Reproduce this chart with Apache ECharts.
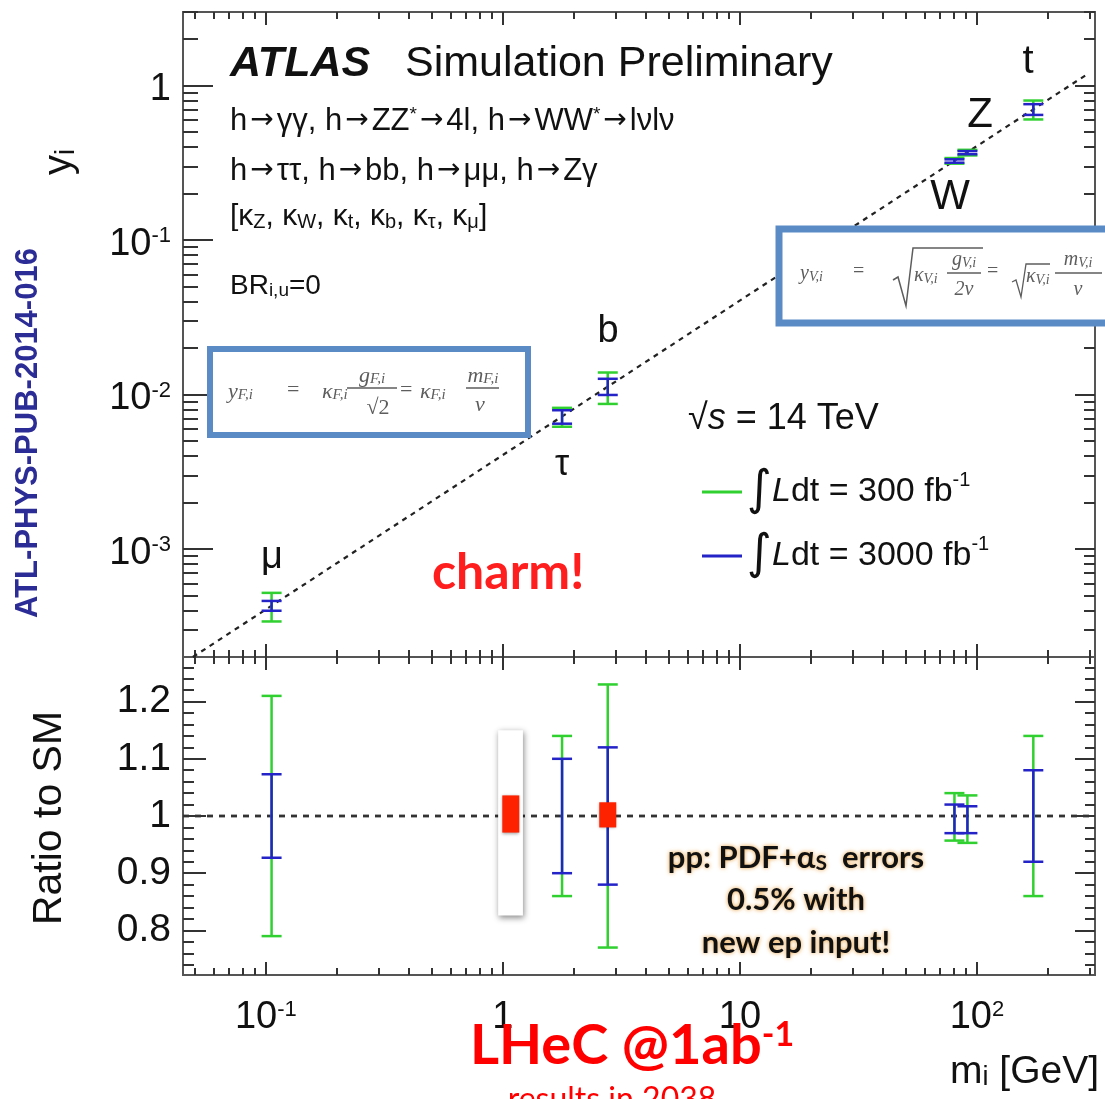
<!DOCTYPE html>
<html>
<head>
<meta charset="utf-8">
<style>
  html, body { margin: 0; padding: 0; background: #fff; }
  #chart { width: 1105px; height: 1099px; }
</style>
<script src="https://cdn.jsdelivr.net/npm/echarts@6/dist/echarts.min.js"></script>
</head>
<body>
<div id="chart"></div>
<script>
// values
const particles = ['μ', 'τ', 'b', 'W', 'Z', 't'];
const masses = [0.1057, 1.777, 2.77, 80.4, 91.2, 173];
const couplings = [0.00043, 0.0072, 0.0113, 0.327, 0.371, 0.703];
const ratio300Low = [0.79, 0.86, 0.77, 0.957, 0.953, 0.86];
const ratio300High = [1.21, 1.14, 1.23, 1.04, 1.036, 1.14];
const ratio3000Low = [0.927, 0.90, 0.88, 0.97, 0.97, 0.92];
const ratio3000High = [1.073, 1.10, 1.12, 1.02, 1.017, 1.08];
// SM expectation y = m / v (dashed diagonal) and ratio = 1
const smLineMass = [0.0492, 288];
const smLineCoupling = [0.0002, 1.17];
const ratioLineMass = [0.0447, 315];
const ratioLineValue = [1, 1];
// LHeC markers (charm, b)
const lhecMass = [1.08, 2.77];
const lhecLow = [0.971, 0.98];
const lhecHigh = [1.036, 1.024];
const lhecBandMass = [0.955, 1.215];
const lhecBandRatio = [0.826, 1.15];
// ticks
const xMajorTicks = [0.1, 1, 10, 100];
const xMinorTicks = [0.05, 0.06, 0.07, 0.08, 0.09, 0.2, 0.3, 0.4, 0.5, 0.6, 0.7, 0.8, 0.9,
  2, 3, 4, 5, 6, 7, 8, 9, 20, 30, 40, 50, 60, 70, 80, 90, 200, 300];
const yMajorTicks = [0.001, 0.01, 0.1, 1];
const yMinorTicks = [0.0003, 0.0004, 0.0005, 0.0006, 0.0007, 0.0008, 0.0009,
  0.002, 0.003, 0.004, 0.005, 0.006, 0.007, 0.008, 0.009,
  0.02, 0.03, 0.04, 0.05, 0.06, 0.07, 0.08, 0.09,
  0.2, 0.3, 0.4, 0.5, 0.6, 0.7, 0.8, 0.9, 2, 3];
const ratioMajorTicks = [0.8, 0.9, 1, 1.1, 1.2];
const ratioMinorTicks = [0.74, 0.76, 0.78, 0.82, 0.84, 0.86, 0.88, 0.92, 0.94, 0.96, 0.98,
  1.02, 1.04, 1.06, 1.08, 1.12, 1.14, 1.16, 1.18, 1.22, 1.24, 1.26];

const X_MIN = 0.0447, X_MAX = 315;
const Y_MIN = 0.0002, Y_MAX = 3;
const R_MIN = 0.722, R_MAX = 1.278;

const SANS = "'Liberation Sans', Arial, sans-serif";
const SERIF = "'Liberation Serif', 'DejaVu Serif', serif";
const CAL = "Lato, 'Open Sans', sans-serif";
const GREEN = '#2fd02f';
const BLUE = '#2323c8';
const FRAME = '#555';
const N300 = '300 fb-1';
const N3000 = '3000 fb-1';

const chart = echarts.init(document.getElementById('chart'));

function sup10(v) {
  const e = Math.round(Math.log10(v));
  if (e === 0) return '1';
  if (e === 1) return '10';
  return '10{s|' + e + '}';
}

function xAx(grid, pos, ticks, len, withLabels) {
  return {
    type: 'log', logBase: 10, gridIndex: grid, position: pos, min: X_MIN, max: X_MAX,
    axisLine: { show: true, lineStyle: { color: FRAME, width: 2 } },
    axisTick: { show: true, inside: true, length: len, customValues: ticks, lineStyle: { color: '#333', width: 2 } },
    axisLabel: withLabels ? {
      show: true, customValues: xMajorTicks, margin: 24, formatter: sup10,
      fontSize: 38, fontFamily: SANS, color: '#111',
      rich: { s: { fontSize: 22, fontFamily: SANS, color: '#111', verticalAlign: 'top' } }
    } : { show: false },
    splitLine: { show: false }, minorTick: { show: false }, minorSplitLine: { show: false }
  };
}

function yLog(pos, ticks, len, withLabels) {
  return {
    type: 'log', logBase: 10, gridIndex: 0, position: pos, min: Y_MIN, max: Y_MAX,
    axisLine: { show: true, lineStyle: { color: FRAME, width: 2 } },
    axisTick: { show: true, inside: true, length: len, customValues: ticks, lineStyle: { color: '#333', width: 2 } },
    axisLabel: withLabels ? {
      show: true, customValues: yMajorTicks, margin: 12, formatter: sup10,
      fontSize: 38, fontFamily: SANS, color: '#111', padding: [8, 0, 0, 0],
      rich: { s: { fontSize: 22, fontFamily: SANS, color: '#111', verticalAlign: 'top' } }
    } : { show: false },
    splitLine: { show: false }, minorTick: { show: false }
  };
}

function yRatio(pos, ticks, len, withLabels) {
  return {
    type: 'value', gridIndex: 1, position: pos, min: R_MIN, max: R_MAX,
    axisLine: { show: true, lineStyle: { color: FRAME, width: 2 } },
    axisTick: { show: true, inside: true, length: len, customValues: ticks, lineStyle: { color: '#333', width: 2 } },
    axisLabel: withLabels ? {
      show: true, customValues: ratioMajorTicks, margin: 12,
      formatter: v => (Math.abs(v - 1) < 1e-6 ? '1' : v.toFixed(1)),
      fontSize: 39, fontFamily: SANS, color: '#111'
    } : { show: false },
    splitLine: { show: false }, minorTick: { show: false }
  };
}

function errSeries(name, color, xi, yi, data) {
  return {
    type: 'custom', name: name, xAxisIndex: xi, yAxisIndex: yi, z: 5,
    itemStyle: { color: color }, encode: { x: 0, y: [1, 2] }, silent: true,
    data: data,
    renderItem: function (params, api) {
      const x = api.value(0);
      const lo = api.coord([x, api.value(1)]);
      const hi = api.coord([x, api.value(2)]);
      const st = { stroke: color, lineWidth: 2.5, fill: null };
      const cap = 10;
      return {
        type: 'group', children: [
          { type: 'line', shape: { x1: lo[0], y1: lo[1], x2: hi[0], y2: hi[1] }, style: st },
          { type: 'line', shape: { x1: lo[0] - cap, y1: lo[1], x2: lo[0] + cap, y2: lo[1] }, style: st },
          { type: 'line', shape: { x1: hi[0] - cap, y1: hi[1], x2: hi[0] + cap, y2: hi[1] }, style: st }
        ]
      };
    }
  };
}

const top300 = masses.map((m, i) => [m, couplings[i] * ratio300Low[i], couplings[i] * ratio300High[i]]);
const top3000 = masses.map((m, i) => [m, couplings[i] * ratio3000Low[i], couplings[i] * ratio3000High[i]]);
const bot300 = masses.map((m, i) => [m, ratio300Low[i], ratio300High[i]]);
const bot3000 = masses.map((m, i) => [m, ratio3000Low[i], ratio3000High[i]]);

// text helpers for annotations
function tokens(size, family, color, weight, style) {
  const base = { fontSize: size, fontFamily: family, fill: color, fontWeight: weight || 'normal', fontStyle: style || 'normal' };
  return {
    s: Object.assign({}, base, { fontSize: Math.round(size * 0.6), verticalAlign: 'top' }),
    b: Object.assign({}, base, { fontSize: Math.round(size * 0.68), verticalAlign: 'bottom' }),
    i: Object.assign({}, base, { fontStyle: 'italic' }),
    a: Object.assign({}, base, { fontFamily: "'DejaVu Sans', sans-serif", fontSize: Math.round(size * 0.9), padding: [0, 3, 0, 3] }),
    n: Object.assign({}, base)
  };
}
function txt(x, y, text, size, o) {
  o = o || {};
  const family = o.family || SANS;
  const color = o.color || '#111';
  const style = {
    text: text, x: 0, y: 0, fontSize: size, fontFamily: family, fill: color,
    fontWeight: o.weight || 'normal', fontStyle: o.style || 'normal',
    align: o.align || 'left', verticalAlign: 'middle',
    textAlign: o.align || 'left', textVerticalAlign: 'middle',
    rich: tokens(size, family, color, o.weight, o.style)
  };
  if (o.glow) { style.textShadowColor = o.glow; style.textShadowBlur = 4; }
  return { type: 'text', x: x, y: y, rotation: o.rotation || 0, z: 100, style: style, silent: true };
}
function seg(x1, y1, x2, y2, color, w) {
  return { type: 'line', z: 100, shape: { x1, y1, x2, y2 }, style: { stroke: color, lineWidth: w || 1.5 }, silent: true };
}

const FC = '#5d5d5d';
const formulaF = [
  { type: 'rect', z: 90, shape: { x: 210, y: 349, width: 318, height: 86 }, style: { fill: '#fff', stroke: '#5b8bc5', lineWidth: 6 } },
  txt(228, 392, 'y{b|F,i}', 22, { family: SERIF, color: FC, style: 'italic' }),
  txt(287, 390, '=', 22, { family: SERIF, color: FC }),
  txt(322, 392, 'κ{b|F,i}', 22, { family: SERIF, color: FC, style: 'italic' }),
  txt(372, 376, 'g{b|F,i}', 22, { family: SERIF, color: FC, style: 'italic', align: 'center' }),
  seg(347, 388, 397, 388, FC, 1.5),
  txt(378, 408, '√2', 22, { family: SERIF, color: FC, align: 'center' }),
  txt(400, 390, '=', 22, { family: SERIF, color: FC }),
  txt(420, 392, 'κ{b|F,i}', 22, { family: SERIF, color: FC, style: 'italic' }),
  txt(483, 376, 'm{b|F,i}', 22, { family: SERIF, color: FC, style: 'italic', align: 'center' }),
  seg(466, 388, 499, 388, FC, 1.5),
  txt(480, 405, 'v', 22, { family: SERIF, color: FC, style: 'italic', align: 'center' })
];
const formulaV = [
  { type: 'rect', z: 90, shape: { x: 779, y: 229, width: 340, height: 94 }, style: { fill: '#fff', stroke: '#5b8bc5', lineWidth: 7 } },
  txt(800, 274, 'y{b|V,i}', 20, { family: SERIF, color: FC, style: 'italic' }),
  txt(853, 272, '=', 20, { family: SERIF, color: FC }),
  { type: 'polyline', z: 100, shape: { points: [[893, 280], [898, 277], [906, 306], [913, 248], [983, 248]] }, style: { stroke: FC, lineWidth: 1.5, fill: null } },
  txt(914, 276, 'κ{b|V,i}', 20, { family: SERIF, color: FC, style: 'italic' }),
  txt(964, 260, 'g{b|V,i}', 20, { family: SERIF, color: FC, style: 'italic', align: 'center' }),
  seg(947, 273, 981, 273, FC, 1.5),
  txt(964, 290, '2v', 20, { family: SERIF, color: FC, style: 'italic', align: 'center' }),
  txt(987, 272, '=', 20, { family: SERIF, color: FC }),
  { type: 'polyline', z: 100, shape: { points: [[1012, 282], [1016, 280], [1021, 297], [1026, 264], [1050, 264]] }, style: { stroke: FC, lineWidth: 1.3, fill: null } },
  txt(1026, 277, 'κ{b|V,i}', 20, { family: SERIF, color: FC, style: 'italic' }),
  txt(1078, 260, 'm{b|V,i}', 20, { family: SERIF, color: FC, style: 'italic', align: 'center' }),
  seg(1055, 273, 1102, 273, FC, 1.5),
  txt(1078, 290, 'v', 20, { family: SERIF, color: FC, style: 'italic', align: 'center' })
];

const labels = [
  txt(230, 64, 'ATLAS', 43, { weight: 'bold', style: 'italic' }),
  txt(405, 64, 'Simulation Preliminary', 43),
  txt(230, 121, 'h{a|→}γγ, h{a|→}ZZ{s|*}{a|→}4l, h{a|→}WW{s|*}{a|→}lνlν', 31),
  txt(230, 171, 'h{a|→}ττ, h{a|→}bb, h{a|→}μμ, h{a|→}Zγ', 31),
  txt(230, 217, '[κ{b|Z}, κ{b|W}, κ{b|t}, κ{b|b}, κ{b|τ}, κ{b|μ}]', 30),
  txt(230, 286, 'BR{b|i,u}=0', 28),
  txt(272, 558, particles[0], 38, { align: 'center' }),
  txt(562, 465, particles[1], 36, { align: 'center' }),
  txt(608, 332, particles[2], 38, { align: 'center' }),
  txt(950, 197, particles[3], 42, { align: 'center' }),
  txt(980, 115, particles[4], 42, { align: 'center' }),
  txt(1028, 62, particles[5], 40, { align: 'center' }),
  txt(688, 419, '√{i|s} = 14 TeV', 36),
  txt(432, 573, 'charm!', 50, { family: CAL, weight: 'bold', color: '#ff1e1e' }),
  txt(796, 858, 'pp: PDF+α{b|S}  errors', 31, { family: CAL, weight: 'bold', align: 'center', glow: '#e8a040' }),
  txt(796, 900, '0.5% with', 31, { family: CAL, weight: 'bold', align: 'center', glow: '#e8a040' }),
  txt(796, 943, 'new ep input!', 31, { family: CAL, weight: 'bold', align: 'center', glow: '#e8a040' }),
  txt(470, 1046, 'LHeC @1ab{s|-1}', 56, { family: CAL, weight: 'bold', color: '#ff0000' }),
  txt(612, 1100, 'results in 2038', 32, { family: CAL, color: '#ff0000', align: 'center' }),
  txt(1099, 1072, 'm{b|i} [GeV]', 39, { align: 'right' }),
  txt(60, 162, 'y{b|i}', 40, { align: 'center', rotation: Math.PI / 2 }),
  txt(50, 818, 'Ratio to SM', 41, { align: 'center', rotation: Math.PI / 2 }),
  txt(28, 433, 'ATL-PHYS-PUB-2014-016', 31, { weight: 'bold', color: '#2c2c96', align: 'center', rotation: Math.PI / 2 })
];

const legendRich = {
  int: { fontSize: 48, fontFamily: "'DejaVu Sans', sans-serif", color: '#111', lineHeight: 44 },
  l: { fontSize: 34, fontFamily: SANS, fontStyle: 'italic', color: '#111', lineHeight: 44 },
  t: { fontSize: 34, fontFamily: SANS, color: '#111', lineHeight: 44 },
  s: { fontSize: 20, fontFamily: SANS, color: '#111', verticalAlign: 'top', lineHeight: 44 }
};

const option = {
  animation: false,
  backgroundColor: '#fff',
  grid: [
    { left: 183, top: 12, width: 912, height: 645, outerBoundsMode: 'none', containLabel: false },
    { left: 183, top: 657, width: 912, height: 318, outerBoundsMode: 'none', containLabel: false }
  ],
  xAxis: [
    xAx(0, 'bottom', xMajorTicks, 13), xAx(0, 'bottom', xMinorTicks, 7),
    xAx(0, 'top', xMajorTicks, 13), xAx(0, 'top', xMinorTicks, 7),
    xAx(1, 'bottom', xMajorTicks, 13, true), xAx(1, 'bottom', xMinorTicks, 7),
    xAx(1, 'top', xMajorTicks, 13), xAx(1, 'top', xMinorTicks, 7)
  ],
  yAxis: [
    yLog('left', yMajorTicks, 30, true), yLog('left', yMinorTicks, 15),
    yLog('right', yMajorTicks, 20), yLog('right', yMinorTicks, 11),
    yRatio('left', ratioMajorTicks, 23, true), yRatio('left', ratioMinorTicks, 11),
    yRatio('right', ratioMajorTicks, 20), yRatio('right', ratioMinorTicks, 10)
  ],
  legend: {
    orient: 'vertical', left: 697, top: 463, itemWidth: 40, itemHeight: 3, itemGap: 16,
    icon: 'rect', selectedMode: false, data: [N300, N3000],
    formatter: name => (name === N300 ? '{int|∫}{l|L}{t|dt = 300 fb}{s|-1}' : '{int|∫}{l|L}{t|dt = 3000 fb}{s|-1}'),
    textStyle: { fontSize: 34, fontFamily: SANS, color: '#111', lineHeight: 44, rich: legendRich }
  },
  series: [
    {
      type: 'line', xAxisIndex: 0, yAxisIndex: 0, symbol: 'none', silent: true, z: 3,
      data: smLineMass.map((m, i) => [m, smLineCoupling[i]]),
      lineStyle: { color: '#222', width: 2.2, type: [5, 5] }
    },
    errSeries(N300, GREEN, 0, 0, top300),
    errSeries(N3000, BLUE, 0, 0, top3000),
    {
      type: 'line', xAxisIndex: 4, yAxisIndex: 4, symbol: 'none', silent: true, z: 3,
      data: ratioLineMass.map((m, i) => [m, ratioLineValue[i]]),
      lineStyle: { color: '#333', width: 2.8, type: [6, 6] }
    },
    {
      type: 'custom', xAxisIndex: 4, yAxisIndex: 4, z: 4, silent: true,
      data: [[lhecBandMass[0], lhecBandMass[1], lhecBandRatio[0], lhecBandRatio[1]]],
      encode: { x: [0, 1], y: [2, 3] },
      renderItem: function (params, api) {
        const a = api.coord([api.value(0), api.value(3)]);
        const b = api.coord([api.value(1), api.value(2)]);
        return {
          type: 'rect', shape: { x: a[0], y: a[1], width: b[0] - a[0], height: b[1] - a[1] },
          style: { fill: '#fff', shadowBlur: 6, shadowColor: 'rgba(0,0,0,0.45)', shadowOffsetX: 1, shadowOffsetY: 2 }
        };
      }
    },
    errSeries(N300, GREEN, 4, 4, bot300),
    errSeries(N3000, BLUE, 4, 4, bot3000),
    {
      type: 'custom', xAxisIndex: 4, yAxisIndex: 4, z: 6, silent: true,
      data: lhecMass.map((m, i) => [m, lhecLow[i], lhecHigh[i]]),
      encode: { x: 0, y: [1, 2] },
      renderItem: function (params, api) {
        const lo = api.coord([api.value(0), api.value(1)]);
        const hi = api.coord([api.value(0), api.value(2)]);
        const w = 17;
        return {
          type: 'rect', shape: { x: lo[0] - w / 2, y: hi[1], width: w, height: lo[1] - hi[1] },
          style: { fill: '#ff2200', shadowBlur: 3, shadowColor: 'rgba(0,0,0,0.35)', shadowOffsetY: 1 }
        };
      }
    }
  ],
  graphic: [].concat(formulaF, formulaV, labels)
};

chart.setOption(option);
</script>
</body>
</html>
